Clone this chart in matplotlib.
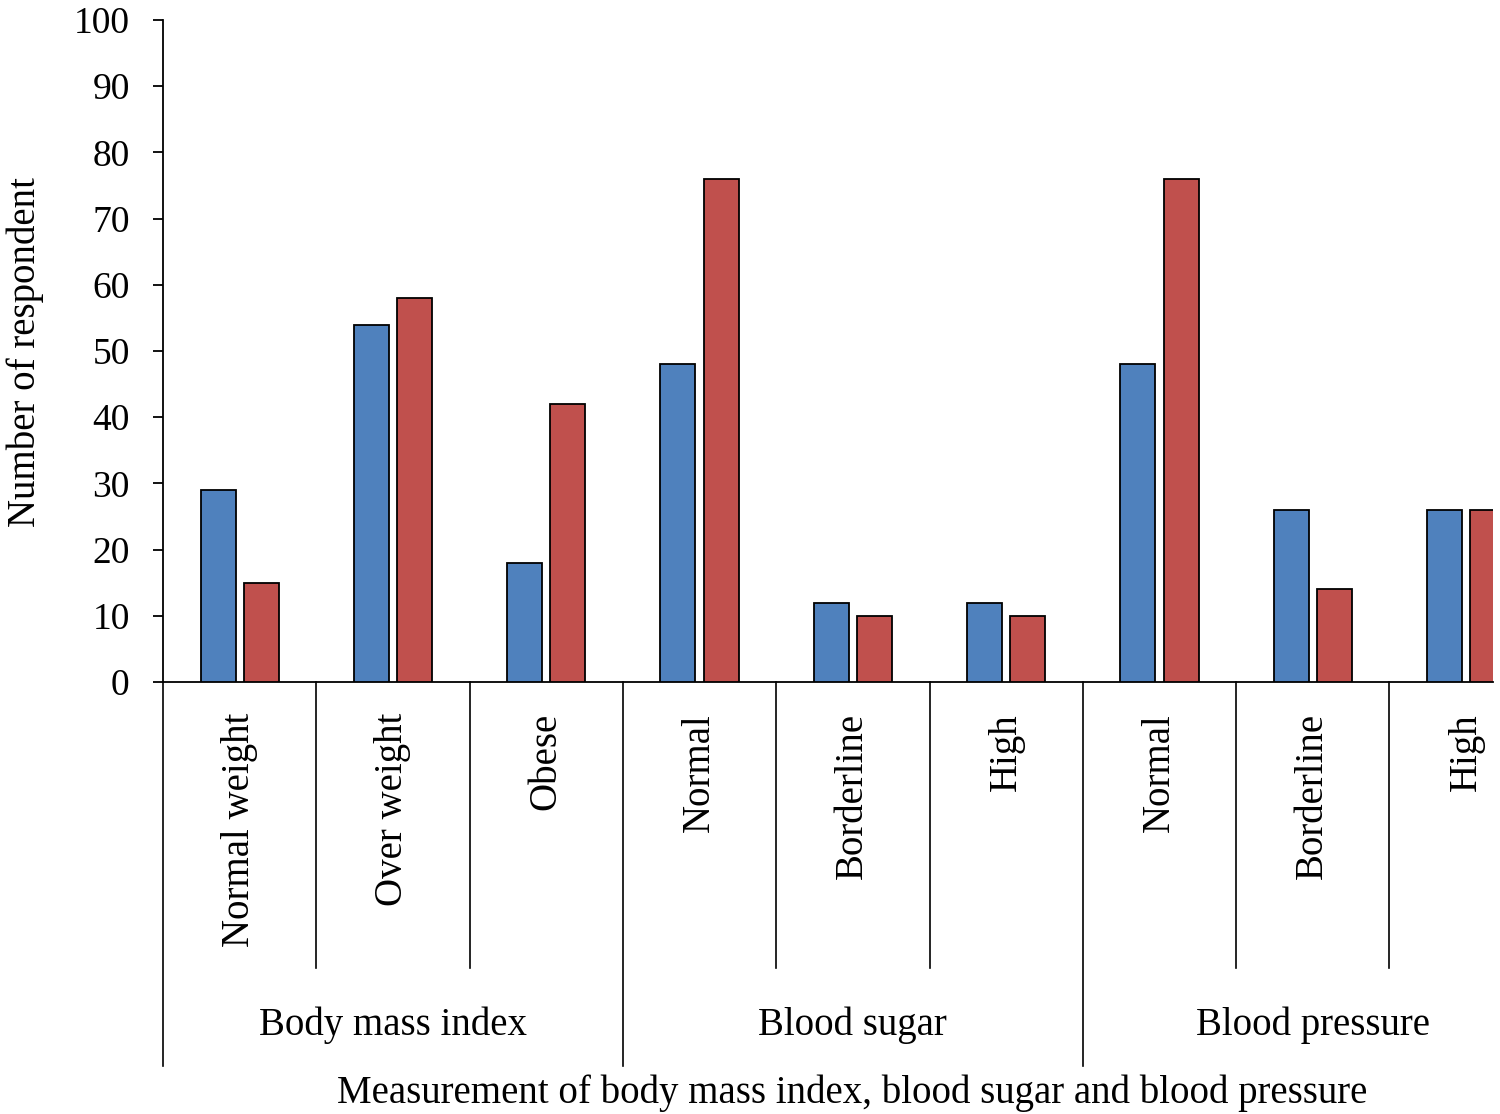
import numpy as np
import matplotlib.pyplot as plt
import matplotlib.transforms as mtransforms

plt.rcParams['font.family'] = ['Liberation Serif', 'DejaVu Serif']

# ---------- datos ----------
subcats = ['Normal weight', 'Over weight', 'Obese',
           'Normal', 'Borderline', 'High',
           'Normal', 'Borderline', 'High']
groups = ['Body mass index', 'Blood sugar', 'Blood pressure']
serie_azul = [29, 54, 18, 48, 12, 12, 48, 26, 26]
serie_roja = [15, 58, 42, 76, 10, 10, 76, 14, 26]

W, H = 1500, 1114
fig = plt.figure(figsize=(W / 100, H / 100), dpi=100)

# el grafico original esta recortado por la derecha: el eje termina en x=1493
cat_px = 153.3
x0, x1 = 163, 1493
y0, y1 = 682, 20
ax = fig.add_axes([x0 / W, 1 - y0 / H, (x1 - x0) / W, (y0 - y1) / H])

x = np.arange(len(subcats)) + 0.5
ancho = 0.228
ax.bar(x - 0.141, serie_azul, ancho, color='#4F81BD', edgecolor='black', linewidth=1.3, zorder=3)
ax.bar(x + 0.141, serie_roja, ancho, color='#C0504D', edgecolor='black', linewidth=1.3, zorder=3)

ax.set_xlim(0, (x1 - x0) / cat_px)
ax.set_ylim(0, 100)
ax.set_yticks(range(0, 101, 10))
ax.tick_params(axis='y', direction='out', length=7, width=1.3, pad=17, labelsize=27)
ax.set_xticks([])
for s in ['top', 'right']:
    ax.spines[s].set_visible(False)
ax.spines['left'].set_linewidth(1.3)
ax.spines['bottom'].set_linewidth(1.3)

trans = mtransforms.blended_transform_factory(ax.transData, ax.transAxes)
alto = y0 - y1

def ay(py):
    # pixel y -> coordenada del eje
    return -(py - y0) / alto

# etiquetas de subcategoria
for xi, lab in zip(x, subcats):
    ax.text(xi, ay(713), lab, transform=trans, rotation=90, ha='center', va='top',
            fontsize=28, clip_on=False)

# lineas separadoras
for i in range(1, 9):
    fondo = ay(1066) if i % 3 == 0 else ay(968)
    ax.plot([i, i], [0, fondo], transform=trans, color='black', lw=1.2, clip_on=False)
ax.plot([0, 0], [0, ay(1066)], transform=trans, color='black', lw=1.2, clip_on=False)

# etiquetas de grupo
for g, lab in enumerate(groups):
    ax.text(g * 3 + 1.5, ay(1025), lab, transform=trans, ha='center', va='center',
            fontsize=28, clip_on=False)

fig.text(852 / W, 1 - 1093 / H, 'Measurement of body mass index, blood sugar and blood pressure',
         ha='center', va='center', fontsize=28)
fig.text(25 / W, 1 - 352 / H, 'Number of respondent', rotation=90,
         ha='center', va='center', fontsize=28)

fig.savefig('out.png', dpi=100)
